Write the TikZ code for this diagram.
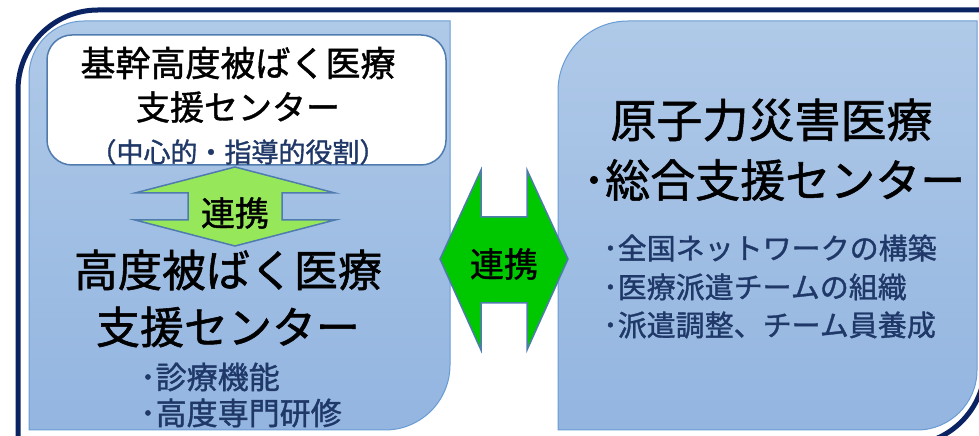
\documentclass[tikz,border=0pt]{standalone}
\usepackage{fontspec}
\setmainfont{Noto Sans CJK JP}[FakeBold=1.2]
\definecolor{navy}{HTML}{0A2463}
\definecolor{boxtop}{HTML}{AFC9E8}
\definecolor{boxbot}{HTML}{93B5E0}
\definecolor{boxline}{HTML}{6A9CD4}
\definecolor{arrline}{HTML}{4F7BAE}
\definecolor{lightgreen}{HTML}{96E85A}
\definecolor{green}{HTML}{00C800}
\definecolor{darktext}{HTML}{1F3868}
\newcommand{\fs}[1]{\fontsize{#1}{#1}\selectfont}
\tikzset{
  panel/.style={draw=boxline, line width=1pt, top color=boxtop, bottom color=boxbot},
  arrowshape/.style={draw=arrline, line width=1.5pt, line join=miter},
  txt/.style={inner sep=0pt, text=black},
  bullet/.style={inner sep=0pt, anchor=west, text=darktext},
}
\begin{document}
\begin{tikzpicture}[x=1pt,y=1pt]
\useasboundingbox (0,0) rectangle (979,436);
\clip (0,0) rectangle (979,436);
\fill[white] (0,0) rectangle (979,436);
% outer frame
\draw[navy, line width=5pt, fill=white] (18,-9) -- (18,346) arc(180:90:80) -- (990,426) -- (985,426) -- (985,71) arc(0:-90:80) -- cycle;
% left panel
\path[panel] (29,6) -- (29,360) arc(180:90:55) -- (450,415) -- (450,71) arc(0:-90:65) -- cycle;
% right panel
\path[panel] (558,6) -- (558,345) arc(180:90:70) -- (977,415) -- (977,66) arc(0:-90:60) -- cycle;
% white box
\node[draw=arrline, line width=1.5pt, fill=white, rounded corners=25pt, minimum width=399pt, minimum height=130pt, inner sep=0pt] (core) at (246.5,336) {};
\node[txt] (core1) at (238,373) {\fs{35}基幹高度被ばく医療};
\node[txt] (core2) at (238,329) {\fs{34}支援センター};
\node[txt, text=darktext] (core3) at (238,284) {\fs{27}（中心的・指導的役割）};
% up-down arrow
\path[arrowshape, fill=lightgreen] (235,269) -- (335,243) -- (282,243) -- (282,216) -- (335,216) -- (235,190) -- (135,216) -- (188,216) -- (188,243) -- (135,243) -- cycle;
\node[txt] (link1) at (235,223) {\fs{34}連携};
% left titles
\node[txt] (hi1) at (228,166) {\fs{44}高度被ばく医療};
\node[txt] (hi2) at (228,109) {\fs{44}支援センター};
\node[bullet] (hb1) at (140,59) {\fs{31}･診療機能};
\node[bullet] (hb2) at (140,23) {\fs{31}･高度専門研修};
% left-right arrow
\path[arrowshape, fill=green] (440,177) -- (481,266) -- (481,219) -- (527,219) -- (527,266) -- (568,177) -- (527,86) -- (527,133) -- (481,133) -- (481,86) -- cycle;
\node[txt] (link2) at (504,172) {\fs{34}連携};
% right titles
\node[txt] (nd1) at (771.5,316) {\fs{46}原子力災害医療};
\node[txt] (nd2) at (774,256) {\fs{45}･総合支援センター};
\node[bullet] (nb1) at (603,188) {\fs{29}･全国ネットワークの構築};
\node[bullet] (nb2) at (603,149) {\fs{29}･医療派遣チームの組織};
\node[bullet] (nb3) at (603,111) {\fs{29}･派遣調整、チーム員養成};
\end{tikzpicture}
\end{document}
